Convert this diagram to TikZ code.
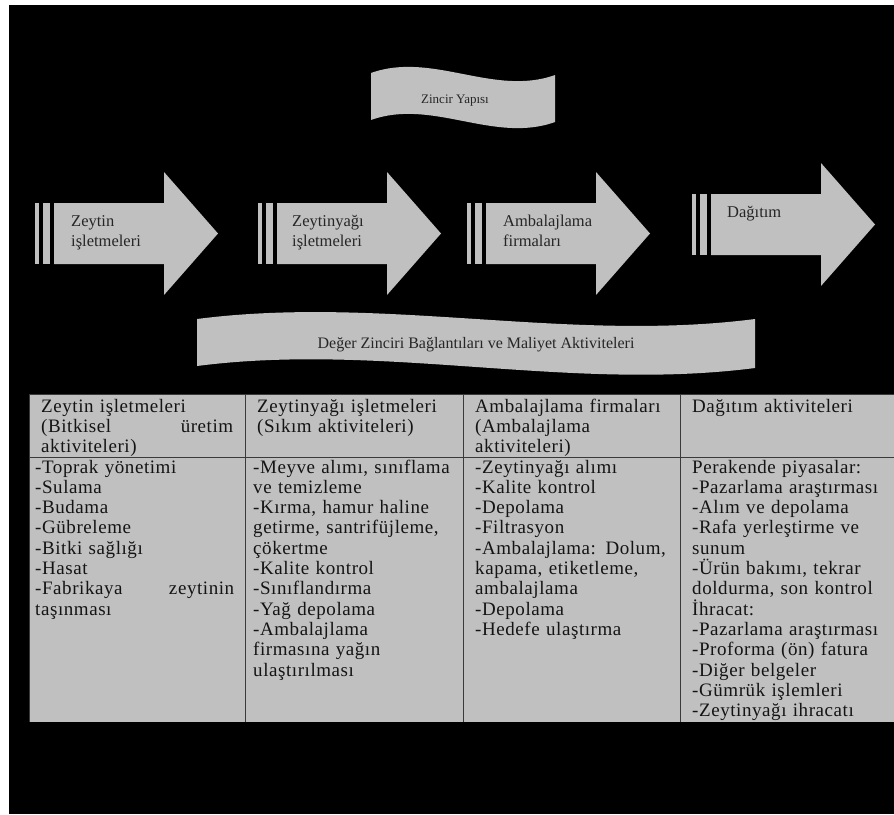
\documentclass[tikz,border=0pt]{standalone}
\usepackage{fontspec}
\setmainfont{Liberation Serif}
\newfontfamily\cellfont[LetterSpace=3]{Liberation Serif}
\definecolor{panelgrey}{HTML}{C0C0C0}
\definecolor{inkgrey}{HTML}{262626}
\definecolor{cellink}{HTML}{141414}
\definecolor{rulegrey}{HTML}{3A3A3A}

% one stage of the chain: two bars and a block arrow
% #1 = left x of the first bar, #2 = centre y
\newcommand\stagearrow[2]{%
  \fill[panelgrey] (#1,#2-30.5) rectangle ++(3.5,61);
  \fill[panelgrey] (#1+8,#2-30.5) rectangle ++(7,61);
  \fill[panelgrey] (#1+19,#2-30.5) -- (#1+129,#2-30.5) -- (#1+129,#2-61.5)
     -- (#1+183,#2) -- (#1+129,#2+61.5) -- (#1+129,#2+30.5)
     -- (#1+19,#2+30.5) -- cycle;
}
% a line spread over a fixed width
\newcommand\spreadline[2]{\leavevmode\hbox to #1{#2}}

\begin{document}
\begin{tikzpicture}[x=1pt,y=-1pt,
  arrowtext/.style={anchor=base west, inner sep=0pt, text width=110pt,
    align=left, text=inkgrey, font=\fontsize{16.5}{20}\selectfont},
  bannertext/.style={anchor=center, inner sep=0pt, text=inkgrey},
  cell/.style={anchor=base west, inner sep=0pt, align=left, text=cellink,
    font=\cellfont\fontsize{19}{20.33}\selectfont},
  grid/.style={draw=rulegrey, line width=1pt}]

\useasboundingbox (0,0) rectangle (894,814);
\fill[white] (0,0) rectangle (894,814);
\fill[black] (9,5) rectangle (894,814);

% chain structure banner
\fill[panelgrey] (371,73) .. controls (432,51) and (494,97) .. (555,75)
  -- (555,122) .. controls (494,144) and (432,98) .. (371,120) -- cycle;
\node[bannertext, font=\fontsize{13}{15}\selectfont] (chain) at (455,101) {Zincir Yapısı};

% the four stages
\stagearrow{35}{233.5}
\stagearrow{258}{233.5}
\stagearrow{467}{233.5}
\stagearrow{692}{224.5}
\node[arrowtext] (s1) at (71,226) {Zeytin\\işletmeleri};
\node[arrowtext] (s2) at (292,226) {Zeytinyağı\\işletmeleri};
\node[arrowtext] (s3) at (503,226) {Ambalajlama\\firmaları};
\node[arrowtext] (s4) at (727,217) {Dağıtım};

% value chain banner
\fill[panelgrey] (197,319) .. controls (383,295) and (569,343) .. (755,319)
  -- (755,368) .. controls (569,392) and (383,342) .. (197,366) -- cycle;
\node[bannertext, font=\fontsize{16}{18}\selectfont] (links) at (476,345)
  {Değer Zinciri Bağlantıları ve Maliyet Aktiviteleri};

% activity table
\fill[panelgrey] (29,394) rectangle (894,722);
\draw[grid] (29,394) -- (894,394);
\draw[grid] (29,457) -- (894,457);
\draw[grid] (29,394) -- (29,722);
\draw[grid] (245,394) -- (245,722);
\draw[grid] (463,394) -- (463,722);
\draw[grid] (680,394) -- (680,722);

\node[cell, text width=194pt] (h1) at (41,412)
  {Zeytin işletmeleri\\\spreadline{192pt}{(Bitkisel\hfill üretim}\\aktiviteleri)};
\node[cell, text width=205pt] (h2) at (257,412)
  {Zeytinyağı işletmeleri\\(Sıkım aktiviteleri)};
\node[cell, text width=200pt] (h3) at (475,412)
  {Ambalajlama firmaları\\(Ambalajlama\\aktiviteleri)};
\node[cell, text width=200pt] (h4) at (692,412)
  {Dağıtım aktiviteleri};

\node[cell, text width=200pt] (b1) at (35,473)
  {-Toprak yönetimi\\-Sulama\\-Budama\\-Gübreleme\\-Bitki sağlığı\\-Hasat\\
   \spreadline{199pt}{-Fabrikaya\hfill zeytinin}\\taşınması};
\node[cell, text width=205pt] (b2) at (253,473)
  {-Meyve alımı, sınıflama\\ve temizleme\\-Kırma, hamur haline\\
   getirme, santrifüjleme,\\çökertme\\-Kalite kontrol\\-Sınıflandırma\\
   -Yağ depolama\\-Ambalajlama\\firmasına yağın\\ulaştırılması};
\node[cell, text width=205pt] (b3) at (475,473)
  {-Zeytinyağı alımı\\-Kalite kontrol\\-Depolama\\-Filtrasyon\\
   -Ambalajlama: Dolum,\\kapama, etiketleme,\\ambalajlama\\-Depolama\\
   -Hedefe ulaştırma};
\node[cell, text width=200pt] (b4) at (692,473)
  {Perakende piyasalar:\\-Pazarlama araştırması\\-Alım ve depolama\\
   -Rafa yerleştirme ve\\sunum\\-Ürün bakımı, tekrar\\doldurma, son kontrol\\
   İhracat:\\-Pazarlama araştırması\\-Proforma (ön) fatura\\-Diğer belgeler\\
   -Gümrük işlemleri\\-Zeytinyağı ihracatı};
\end{tikzpicture}
\end{document}
